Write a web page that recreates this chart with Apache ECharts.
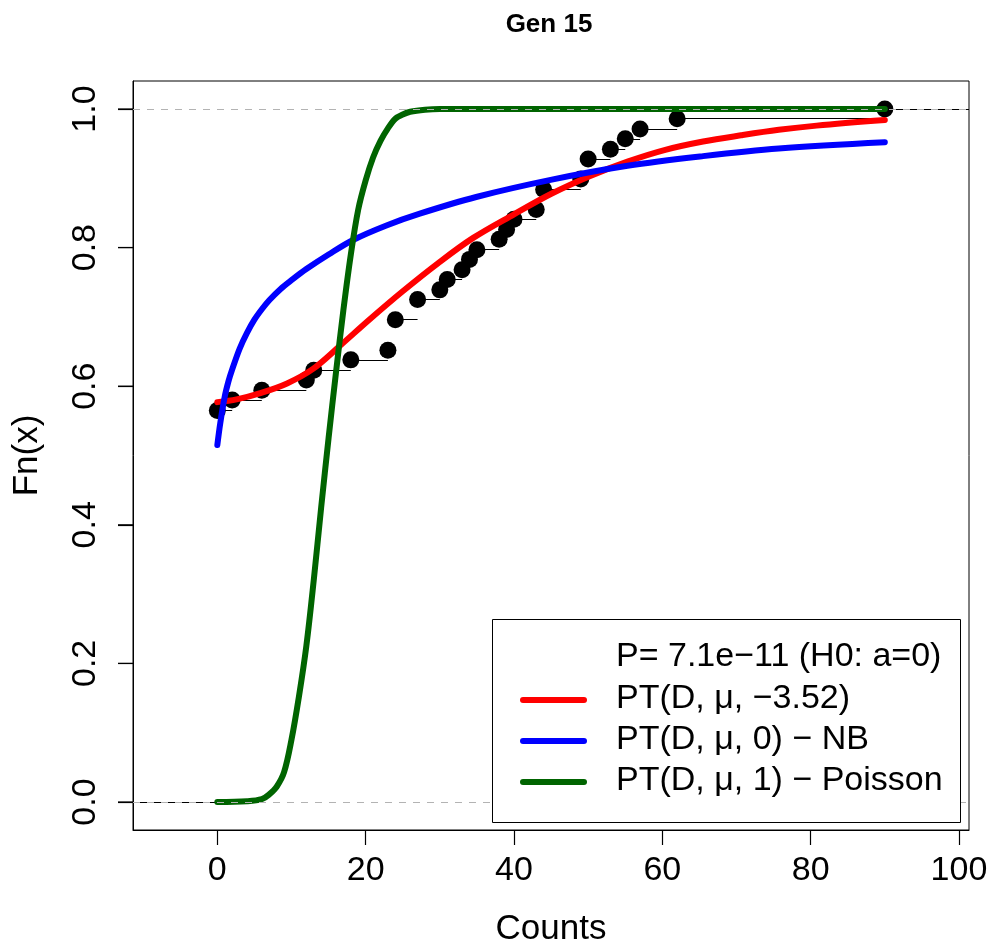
<!DOCTYPE html>
<html>
<head>
<meta charset="utf-8">
<script src="https://cdn.jsdelivr.net/npm/echarts@6/dist/echarts.min.js"></script>
<style>
  html, body { margin: 0; padding: 0; background: #fff; }
  #main { width: 994px; height: 947px; }
</style>
</head>
<body>
<div id="main"></div>
<script>
// ecdf jump points (Counts, Fn(x))
var ecdfX = [0, 2, 6, 12, 13, 18, 23, 24, 27, 30, 31, 33, 34, 35, 38, 39, 40, 43, 44, 49, 50, 53, 55, 57, 62, 90];
var ecdfY = [0.565, 0.580, 0.594, 0.609, 0.623, 0.638, 0.652, 0.696, 0.725, 0.739, 0.754, 0.768, 0.783, 0.797,
             0.812, 0.826, 0.841, 0.855, 0.884, 0.899, 0.928, 0.942, 0.957, 0.971, 0.986, 1.000];

// fitted curves
var redX = [0, 2.6, 5.8, 9.4, 12.9, 16.5, 20.6, 25, 29.7, 34.5, 40, 45.1, 50.2, 55.3, 60.4, 65.5, 70.6, 75.7, 80.8, 90];
var redY = [0.577, 0.581, 0.590, 0.604, 0.625, 0.658, 0.697, 0.737, 0.777, 0.814, 0.848, 0.878, 0.903, 0.924,
            0.941, 0.953, 0.962, 0.970, 0.976, 0.984];

var blueX = [0, 0.4, 1, 1.5, 2, 3, 4, 5, 6, 7, 8.5, 10, 12, 15, 18.3, 22.8, 27.3, 34.9, 45.1, 55.3, 65.5, 75.7, 90];
var blueY = [0.515, 0.547, 0.585, 0.607, 0.624, 0.654, 0.677, 0.696, 0.711, 0.724, 0.740, 0.753, 0.769, 0.790,
             0.811, 0.832, 0.849, 0.873, 0.898, 0.918, 0.932, 0.943, 0.952];

var greenX = [0, 4, 6, 7, 8, 9, 10, 11, 12, 13, 14, 15, 16, 17, 18, 19, 20, 21, 22, 23, 24, 25, 26, 28, 30, 90];
var greenY = [0, 0.001, 0.004, 0.011, 0.022, 0.043, 0.09, 0.152, 0.225, 0.32, 0.425, 0.525, 0.62, 0.71, 0.79,
              0.855, 0.897, 0.93, 0.954, 0.972, 0.986, 0.992, 0.996, 0.999, 1.0, 1.0];

var xTicks = [0, 20, 40, 60, 80, 100];
var yTicks = [0, 0.2, 0.4, 0.6, 0.8, 1.0];

var legendLines = ['P= 7.1e\u221211 (H0: a=0)', 'PT(D, \u03bc, \u22123.52)', 'PT(D, \u03bc, 0) \u2212 NB', 'PT(D, \u03bc, 1) \u2212 Poisson'];
var legendColors = [null, '#ff0000', '#0000ff', '#006400'];

var xMin = -11.37, xMax = 101.35;
var yMin = -0.0404, yMax = 1.0404;
var FONT = '"Liberation Sans", Arial, Helvetica, sans-serif';

function pairs(xs, ys) {
  return xs.map(function (x, i) { return [x, ys[i]]; });
}

// horizontal pieces of the step function
var segs = [{ coords: [[xMin, 0], [ecdfX[0], 0]] }];
for (var i = 0; i < ecdfX.length; i++) {
  var nx = i < ecdfX.length - 1 ? ecdfX[i + 1] : xMax;
  segs.push({ coords: [[ecdfX[i], ecdfY[i]], [nx, ecdfY[i]]] });
}

var graphics = [{
  type: 'text', x: 549, y: 25, z: 100,
  style: { text: 'Gen 15', font: 'bold 26px ' + FONT, fill: '#000', align: 'center', verticalAlign: 'middle' }
}, {
  type: 'rect', z: 100,
  shape: { x: 492.5, y: 619.5, width: 468, height: 203 },
  style: { fill: '#fff', stroke: '#000', lineWidth: 1 }
}];
var rowY = [657, 699, 740, 781];
legendLines.forEach(function (t, k) {
  if (legendColors[k]) {
    graphics.push({
      type: 'line', z: 101,
      shape: { x1: 523, y1: rowY[k] + 1, x2: 584, y2: rowY[k] + 1 },
      style: { stroke: legendColors[k], lineWidth: 6, lineCap: 'round' }
    });
  }
  graphics.push({
    type: 'text', z: 101, x: 616, y: rowY[k],
    style: { text: t, font: '34px ' + FONT, fill: '#000', verticalAlign: 'middle' }
  });
});

function curve(name, xs, ys, color) {
  return {
    name: name, type: 'line', data: pairs(xs, ys), showSymbol: false, symbol: 'none',
    smooth: 0.35, silent: true,
    lineStyle: { color: color, width: 6, cap: 'round', join: 'round' }
  };
}

var chart = echarts.init(document.getElementById('main'), null, { renderer: 'canvas' });
chart.setOption({
  animation: false,
  backgroundColor: '#fff',
  textStyle: { fontFamily: FONT },
  grid: {
    left: 133, top: 81, width: 836, height: 749, outerBoundsMode: 'none', containLabel: false,
    show: true, borderColor: '#000', borderWidth: 1, backgroundColor: 'transparent'
  },
  xAxis: {
    type: 'value', min: xMin, max: xMax,
    name: 'Counts', nameLocation: 'middle', nameGap: 82,
    nameTextStyle: { fontSize: 35, color: '#000', fontFamily: FONT },
    axisLine: { show: true, onZero: false, lineStyle: { color: '#000', width: 1 } },
    axisTick: { show: true, length: 15, customValues: xTicks, lineStyle: { color: '#000', width: 1.2 } },
    axisLabel: { customValues: xTicks, fontSize: 34, color: '#000', margin: 24, fontFamily: FONT },
    splitLine: { show: false }
  },
  yAxis: {
    type: 'value', min: yMin, max: yMax,
    name: 'Fn(x)', nameLocation: 'middle', nameGap: 88,
    nameTextStyle: { fontSize: 35, color: '#000', fontFamily: FONT },
    axisLine: { show: true, onZero: false, lineStyle: { color: '#000', width: 1 } },
    axisTick: { show: true, length: 15, customValues: yTicks, lineStyle: { color: '#000', width: 1.2 } },
    axisLabel: {
      customValues: yTicks, rotate: 90, fontSize: 34, color: '#000', margin: 30, fontFamily: FONT,
      formatter: function (v) { return v.toFixed(1); }
    },
    splitLine: { show: false }
  },
  graphic: graphics,
  series: [{
    type: 'lines', coordinateSystem: 'cartesian2d', data: segs, silent: true,
    lineStyle: { color: '#000', width: 1, opacity: 1 },
    markLine: {
      silent: true, symbol: 'none', label: { show: false },
      lineStyle: { color: '#b3b3b3', type: [7, 7], width: 1.2 },
      data: [{ yAxis: 0 }, { yAxis: 1 }]
    }
  }, {
    // y tick marks outside the left edge of the box
    type: 'custom', coordinateSystem: 'cartesian2d', silent: true, clip: false,
    data: yTicks.map(function (v) { return [xMin, v]; }),
    renderItem: function (params, api) {
      var p = api.coord([api.value(0), api.value(1)]);
      return {
        type: 'line',
        shape: { x1: p[0] - 15, y1: p[1], x2: p[0], y2: p[1] },
        style: { stroke: '#000', lineWidth: 1.2 }
      };
    }
  }, {
    type: 'scatter', data: pairs(ecdfX, ecdfY), symbol: 'circle', symbolSize: 17, silent: true,
    itemStyle: { color: '#000', opacity: 1 }
  },
    curve('red', redX, redY, '#ff0000'),
    curve('blue', blueX, blueY, '#0000ff'),
    curve('green', greenX, greenY, '#006400')
  ]
});
</script>
</body>
</html>
